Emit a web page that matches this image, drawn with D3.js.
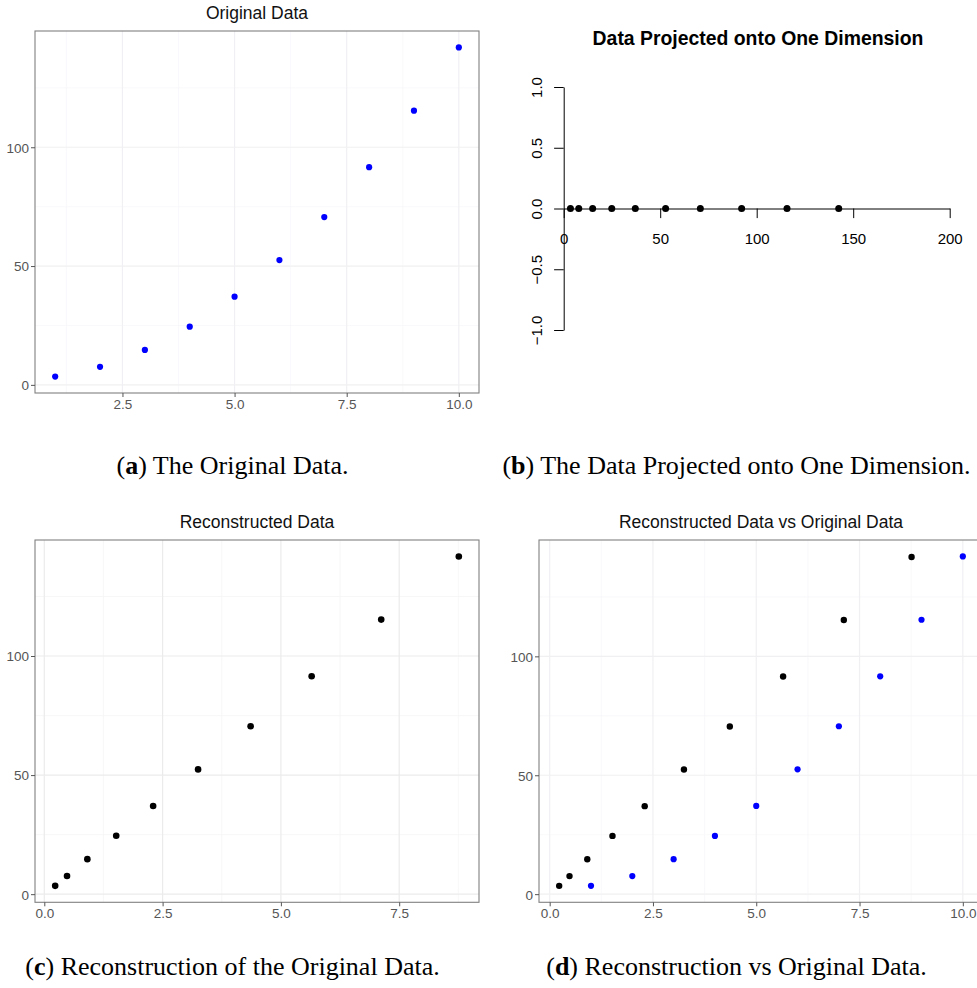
<!DOCTYPE html>
<html>
<head>
<meta charset="utf-8">
<script src="https://cdn.jsdelivr.net/npm/d3@7"></script>
<style>
  body { margin: 0; background: #fff; }
  svg { display: block; }
</style>
</head>
<body>
<svg id="fig" width="977" height="988"></svg>
<script>
// ---- data ----
const xOriginal = [1, 2, 3, 4, 5, 6, 7, 8, 9, 10];
const yOriginal = [3.5, 7.6, 14.7, 24.5, 37.1, 52.5, 70.6, 91.6, 115.4, 142.0];

// scores on the first principal direction
const projected = [3.5, 7.8, 15.0, 24.9, 37.1, 52.8, 70.8, 92.2, 115.7, 142.5];

// points mapped back into the original space
const xRecon = [0.23, 0.48, 0.91, 1.52, 2.30, 3.25, 4.36, 5.65, 7.12, 8.76];
const yRecon = [3.5, 7.6, 14.7, 24.5, 37.0, 52.4, 70.5, 91.5, 115.3, 141.8];

// ticks
const yTicks = [0, 50, 100];
const xTicksOriginal = [2.5, 5.0, 7.5, 10.0];
const xTicksRecon = [0.0, 2.5, 5.0, 7.5];
const xTicksBoth = [0.0, 2.5, 5.0, 7.5, 10.0];
const projXTicks = [0, 50, 100, 150, 200];
const projYTicks = [-1.0, -0.5, 0.0, 0.5, 1.0];

// titles and captions
const titles = ["Original Data", "Data Projected onto One Dimension",
                "Reconstructed Data", "Reconstructed Data vs Original Data"];
const captionTags = ["a", "b", "c", "d"];
const captionTexts = [" The Original Data.", " The Data Projected onto One Dimension.",
                      " Reconstruction of the Original Data.", " Reconstruction vs Original Data."];

const svg = d3.select("#fig");
const SANS = "'Liberation Sans', Arial, Helvetica, sans-serif";
const SERIF = "'Liberation Serif', 'Times New Roman', serif";

// ggplot-style continuous limits: data range padded by 5% on each side
function expanded(values) {
  const [lo, hi] = d3.extent(values);
  const pad = (hi - lo) * 0.05;
  return [lo - pad, hi + pad];
}

function minorBreaks(major, domain) {
  const step = major[1] - major[0];
  const out = [];
  for (let i = -1; i < major.length; i++) {
    const v = (i < 0 ? major[0] - step : major[i]) + step / 2;
    if (v >= domain[0] && v <= domain[1]) out.push(v);
  }
  return out;
}

// theme_bw-like scatter panel
function ggPanel(o) {
  const g = svg.append("g");
  const x = d3.scaleLinear().domain(o.xDomain).range([o.left, o.right]);
  const y = d3.scaleLinear().domain(o.yDomain).range([o.bottom, o.top]);

  // clip for the panel contents
  const clipId = "clip-" + o.id;
  svg.append("clipPath").attr("id", clipId)
    .append("rect").attr("x", o.left).attr("y", o.top)
    .attr("width", o.right - o.left).attr("height", o.bottom - o.top);
  const body = g.append("g").attr("clip-path", `url(#${clipId})`);

  const xMinor = minorBreaks(o.xTicks, o.xDomain);
  const yMinor = minorBreaks(o.yTicks, o.yDomain);

  body.selectAll(".xminor").data(xMinor).join("line")
    .attr("x1", d => x(d)).attr("x2", d => x(d))
    .attr("y1", o.top).attr("y2", o.bottom)
    .attr("stroke", o.minorColor).attr("stroke-width", 0.7);
  body.selectAll(".yminor").data(yMinor).join("line")
    .attr("y1", d => y(d)).attr("y2", d => y(d))
    .attr("x1", o.left).attr("x2", o.right)
    .attr("stroke", o.minorColor).attr("stroke-width", 0.7);
  body.selectAll(".xmajor").data(o.xTicks).join("line")
    .attr("x1", d => x(d)).attr("x2", d => x(d))
    .attr("y1", o.top).attr("y2", o.bottom)
    .attr("stroke", o.majorColor).attr("stroke-width", 1.2);
  body.selectAll(".ymajor").data(o.yTicks).join("line")
    .attr("y1", d => y(d)).attr("y2", d => y(d))
    .attr("x1", o.left).attr("x2", o.right)
    .attr("stroke", o.majorColor).attr("stroke-width", 1.2);

  o.series.forEach(s => {
    body.selectAll(null).data(d3.range(s.x.length)).join("circle")
      .attr("cx", i => x(s.x[i])).attr("cy", i => y(s.y[i]))
      .attr("r", s.r).attr("fill", s.color);
  });

  // panel border
  g.append("rect")
    .attr("x", o.left).attr("y", o.top)
    .attr("width", o.right - o.left).attr("height", o.bottom - o.top)
    .attr("fill", "none").attr("stroke", "#808080").attr("stroke-width", 1.1);

  // axes
  const xAxis = d3.axisBottom(x).tickValues(o.xTicks).tickSize(4).tickSizeOuter(0)
    .tickFormat(d3.format(".1f"));
  const yAxis = d3.axisLeft(y).tickValues(o.yTicks).tickSize(4).tickSizeOuter(0)
    .tickFormat(d3.format("d"));

  const ga = g.append("g").attr("transform", `translate(0,${o.bottom})`).call(xAxis);
  const gb = g.append("g").attr("transform", `translate(${o.left},0)`).call(yAxis);
  [ga, gb].forEach(a => {
    a.select(".domain").remove();
    a.selectAll(".tick line").attr("stroke", "#555");
    a.selectAll(".tick text").attr("fill", "#555")
      .style("font-family", SANS).style("font-size", "13.5px");
  });
  ga.selectAll(".tick text").attr("y", 16).attr("dy", 0);
  gb.selectAll(".tick text").attr("x", -6).attr("dy", "0.36em");

  g.append("text")
    .attr("x", (o.left + o.right) / 2).attr("y", o.titleY)
    .attr("text-anchor", "middle")
    .style("font-family", SANS).style("font-size", "17.5px").attr("fill", "#111")
    .text(o.title);
}

// (a) original data
ggPanel({
  id: "a", left: 35, right: 479, top: 31, bottom: 393, titleY: 18.5,
  xDomain: expanded(xOriginal), yDomain: expanded(yOriginal),
  xTicks: xTicksOriginal, yTicks: yTicks,
  majorColor: "#f0f0f2", minorColor: "#f7f7f9",
  title: titles[0],
  series: [{ x: xOriginal, y: yOriginal, color: "#0000ff", r: 3.1 }]
});

// (c) reconstruction
ggPanel({
  id: "c", left: 35, right: 479, top: 540, bottom: 902.3, titleY: 528,
  xDomain: expanded(xRecon), yDomain: expanded(yRecon),
  xTicks: xTicksRecon, yTicks: yTicks,
  majorColor: "#ebebeb", minorColor: "#f3f3f3",
  title: titles[2],
  series: [{ x: xRecon, y: yRecon, color: "#000", r: 3.3 }]
});

// (d) reconstruction and original together
ggPanel({
  id: "d", left: 539, right: 983, top: 540, bottom: 902.3, titleY: 528,
  xDomain: expanded(xRecon.concat(xOriginal)), yDomain: expanded(yRecon.concat(yOriginal)),
  xTicks: xTicksBoth, yTicks: yTicks,
  majorColor: "#f0f0f2", minorColor: "#f7f7f9",
  title: titles[3],
  series: [
    { x: xRecon, y: yRecon, color: "#000", r: 3.2 },
    { x: xOriginal, y: yOriginal, color: "#0000ff", r: 3.1 }
  ]
});

// (b) base-graphics style 1-D projection with axes through the origin
(function () {
  const g = svg.append("g");
  const x = d3.scaleLinear().domain([0, 200]).range([563.7, 949.7]);
  const y = d3.scaleLinear().domain([-1, 1]).range([330, 87]);

  const xa = g.append("g").attr("transform", `translate(0,${y(0)})`)
    .call(d3.axisBottom(x).tickValues(projXTicks).tickSize(9.6).tickSizeOuter(0));
  const ya = g.append("g").attr("transform", `translate(${x(0)},0)`)
    .call(d3.axisLeft(y).tickValues(projYTicks).tickSize(9.6).tickSizeOuter(0)
      .tickFormat(d3.format(".1f")));

  [xa, ya].forEach(a => {
    a.select(".domain").attr("stroke", "#000").attr("stroke-width", 1);
    a.selectAll(".tick line").attr("stroke", "#000").attr("stroke-width", 1);
    a.selectAll(".tick text").attr("fill", "#000")
      .style("font-family", SANS).style("font-size", "15px");
  });
  xa.selectAll(".tick text").attr("y", 35.5).attr("dy", 0);
  ya.selectAll(".tick text")
    .attr("x", 0).attr("y", -21.5).attr("dy", 0)
    .attr("text-anchor", "middle")
    .attr("transform", "rotate(-90)");

  g.selectAll("circle").data(projected).join("circle")
    .attr("cx", d => x(d)).attr("cy", y(0)).attr("r", 3.5).attr("fill", "#000");

  g.append("text")
    .attr("x", 758).attr("y", 45).attr("text-anchor", "middle")
    .style("font-family", SANS).style("font-size", "19.4px").style("font-weight", "bold")
    .attr("fill", "#000")
    .text(titles[1]);
})();

// sub-figure captions
const capPos = [[232.5, 474], [736.5, 474], [232.5, 975], [736.5, 975]];
capPos.forEach(([cx, cy], i) => {
  const t = svg.append("text")
    .attr("x", cx).attr("y", cy).attr("text-anchor", "middle")
    .style("font-family", SERIF).style("font-size", "26px").attr("fill", "#000");
  t.append("tspan").text("(");
  t.append("tspan").style("font-weight", "bold").text(captionTags[i]);
  t.append("tspan").text(")" + captionTexts[i]);
});
</script>
</body>
</html>
